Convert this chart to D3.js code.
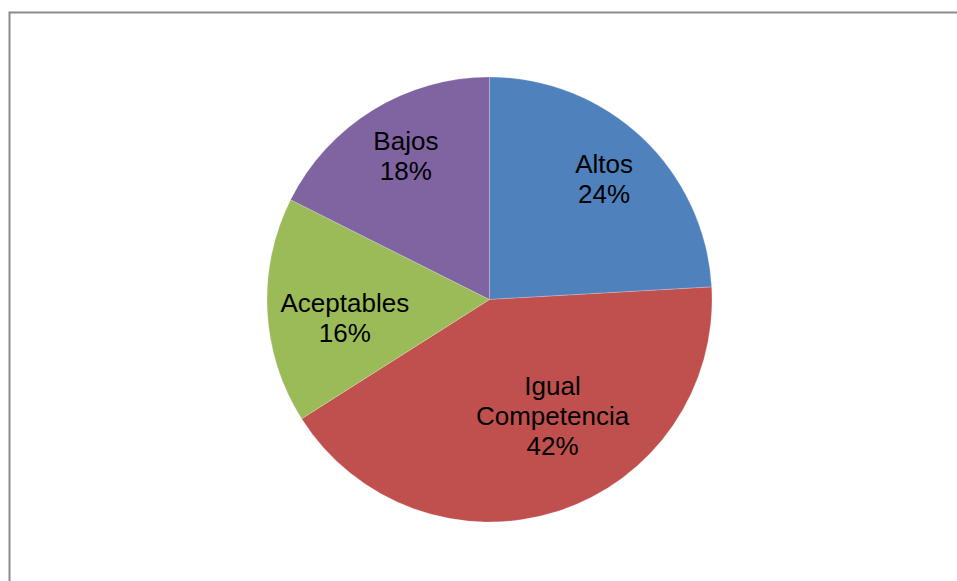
<!DOCTYPE html>
<html>
<head>
<meta charset="utf-8">
<script src="https://cdn.jsdelivr.net/npm/d3@7"></script>
<style>
  html, body { margin: 0; padding: 0; background: #fff; }
  svg { display: block; }
</style>
</head>
<body>
<svg id="chart" width="957" height="581"></svg>
<script>
// Data
const categories = ["Altos", "Igual Competencia", "Aceptables", "Bajos"];
const labelLines = [["Altos"], ["Igual", "Competencia"], ["Aceptables"], ["Bajos"]];
const values = [24.1, 41.9, 16.4, 17.6];
const colors = ["#4F81BD", "#C0504D", "#9BBB59", "#8064A2"];

const W = 957, H = 581;
const cx = 489.5, cy = 299.5, R = 222.5;
// label nudges (layout only)
const labelNudge = { "Altos": [0, 0], "Igual Competencia": [12, -43], "Aceptables": [22, 10], "Bajos": [4, -2] };

const svg = d3.select("#chart");

// frame
svg.append("path")
  .attr("d", `M9.5,${H} L9.5,12.5 L${W},12.5`)
  .attr("fill", "none")
  .attr("stroke", "#8a8a8a")
  .attr("stroke-width", 2);

const data = categories.map((c, i) => ({ cat: c, lines: labelLines[i], value: values[i], color: colors[i] }));

const pie = d3.pie().value(d => d.value).sort(null);
const arcs = pie(data);
const arc = d3.arc().innerRadius(0).outerRadius(R);
const labelArc = d3.arc().innerRadius(R * 0.75).outerRadius(R * 0.75);

const g = svg.append("g").attr("transform", `translate(${cx},${cy})`);

g.selectAll("path.slice")
  .data(arcs)
  .enter().append("path")
  .attr("class", "slice")
  .attr("d", arc)
  .attr("fill", d => d.data.color)
  .attr("stroke", "#ffffff")
  .attr("stroke-width", 0.4)
  .attr("stroke-opacity", 0.5);

const total = d3.sum(values);
const lineH = 30;
const fontSize = 26;

arcs.forEach(a => {
  const [x0, y0] = labelArc.centroid(a);
  const nud = labelNudge[a.data.cat];
  const x = x0 + nud[0], y = y0 + nud[1];
  const lines = a.data.lines.concat([Math.round(a.data.value / total * 100) + "%"]);
  const n = lines.length;
  const capH = fontSize * 0.716;
  const firstBaseline = y - ((n - 1) * lineH) / 2 + capH / 2;
  const t = g.append("text")
    .attr("text-anchor", "middle")
    .attr("font-family", "Arial, 'Liberation Sans', sans-serif")
    .attr("font-size", fontSize)
    .attr("fill", "#000");
  lines.forEach((ln, i) => {
    t.append("tspan").attr("x", x).attr("y", firstBaseline + i * lineH).text(ln);
  });
});
</script>
</body>
</html>
